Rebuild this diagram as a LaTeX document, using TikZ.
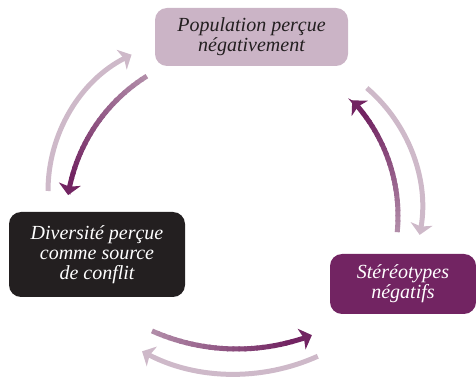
\documentclass[tikz,border=0pt]{standalone}
\usepackage{fontspec}
\setmainfont{Liberation Serif}
\usetikzlibrary{arrows.meta}
\definecolor{darkplum}{HTML}{722462}
\definecolor{tailplum}{HTML}{B18CA8}
\definecolor{paleplum}{HTML}{CEB9C9}
\definecolor{topplum}{HTML}{CBB4C6}
\definecolor{inkdark}{HTML}{231F20}
\tikzset{
    box/.style = {rectangle, rounded corners=12pt, align=center, inner sep=0pt,
                  font=\fontsize{20}{20}\selectfont\itshape},
    boxtop/.style = {box, fill=topplum, text=inkdark, minimum width=193pt, minimum height=58pt},
    boxleft/.style = {box, fill=inkdark, text=white, minimum width=176pt, minimum height=85pt},
    boxright/.style = {box, fill=darkplum, text=white, minimum width=146pt, minimum height=60pt},
    tipp/.tip = {Stealth[length=11pt,width=22pt,inset=2.5pt]},
    edgeo/.style = {-tipp, line width=5pt, paleplum}, % back
    edgei/.style = {line width=5pt}, % forward, shaded
    edgeh/.style = {-tipp, line width=5pt, darkplum}
}
% shaded arc: centre, radius, start angle, end angle
\newcommand{\shadedarc}[4]{%
  \pgfmathsetmacro\arcstop{#4-6*sign(#4-#3)}
  \foreach \k in {0,...,23}{
    \pgfmathsetmacro\angA{#3+(\arcstop-#3)*\k/24}
    \pgfmathsetmacro\angB{#3+(\arcstop-#3)*(\k+1.3)/24}
    \pgfmathsetmacro\mix{100*\k/23}
    \draw[edgei, draw=darkplum!\mix!tailplum] (#1) ++(\angA:#2) arc[start angle=\angA, end angle=\angB, radius=#2];
  }
  \draw[edgeh] (#1) ++(\arcstop:#2) arc[start angle=\arcstop, end angle=#4, radius=#2];
}

\begin{document}
\begin{tikzpicture}[x=1pt, y=1pt]
  \useasboundingbox (0,0) rectangle (476,380);

  \node[boxtop] (pop) at (251.5,343) {Population perçue\\négativement};
  \node[boxleft] (div) at (97,125.5) {Diversité perçue\\comme source\\de conflit};
  \node[boxright] (ste) at (403,96) {Stéréotypes\\négatifs};

  % arc centres
  \coordinate (cleftout) at (201,189);
  \coordinate (cleftin) at (238,158);
  \coordinate (crightout) at (264,172);
  \coordinate (crightin) at (229,164);
  \coordinate (cbotin) at (237,240);
  \coordinate (cbotout) at (235,208);

  % pale arrows
  \draw[edgeo] (cleftout) ++(180:153) arc[start angle=180, end angle=117, radius=153];
  \draw[edgeo] (crightout) ++(49.4:158) arc[start angle=49.4, end angle=-9.8, radius=158];
  \draw[edgeo] (cbotout) ++(-65.8:202) arc[start angle=-65.8, end angle=-117.4, radius=202];

  % shaded arrows
  \shadedarc{cleftin}{172}{122}{171}
  \shadedarc{crightin}{169}{-5.5}{43.2}
  \shadedarc{cbotin}{209}{246}{291}

\end{tikzpicture}
\end{document}
